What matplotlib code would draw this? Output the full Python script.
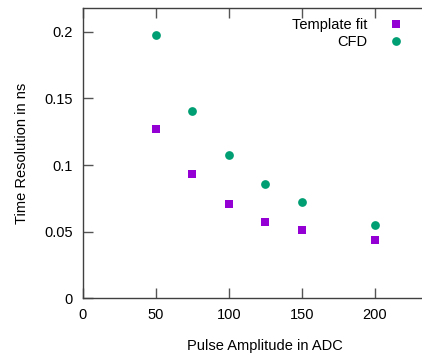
import matplotlib
matplotlib.use('Agg')
import matplotlib.pyplot as plt

plt.rcParams['font.family'] = ['Liberation Sans', 'DejaVu Sans']

amplitude = [50, 75, 100, 125, 150, 200]
template_fit = [0.1269, 0.0935, 0.0710, 0.0573, 0.0515, 0.0438]
cfd = [0.1977, 0.1406, 0.1076, 0.0860, 0.0721, 0.0553]

xticks = [0, 50, 100, 150, 200]
yticks = [0, 0.05, 0.1, 0.15, 0.2]
yticklabels = ['0', '0.05', '0.1', '0.15', '0.2']

W, H = 422, 356
fig = plt.figure(figsize=(W/100, H/100), dpi=100)
# axes runs past the right edge of the picture (cropped like the original)
ax = fig.add_axes([82.7/W, (H-298.3)/H, 365/W, 290/H])

ax.plot(amplitude, template_fit, 's', color='#9400D3', ms=6.3, mew=0,
        label='Template fit')
ax.plot(amplitude, cfd, 'o', color='#009E73', ms=6.3, mew=0, label='CFD')

ax.set_xlim(0, 250)
ax.set_ylim(0, 0.2177)
ax.set_xticks(xticks)
ax.set_yticks(yticks)
ax.set_yticklabels(yticklabels)
ax.tick_params(direction='in', length=7, width=1, color='#555555',
               labelsize=10.5, top=True, right=True, pad=7)
for s in ax.spines.values():
    s.set_color('#404040')
    s.set_linewidth(1)

ax.set_xlabel('Pulse Amplitude in ADC', fontsize=10.5, labelpad=12)
ax.set_ylabel('Time Resolution in ns', fontsize=10.5, labelpad=11)

ax.legend(loc='upper right', bbox_to_anchor=(403/W, 1 - 18/H),
          bbox_transform=fig.transFigure, frameon=False, markerfirst=False,
          fontsize=10.5, handlelength=1.0, handletextpad=1.45,
          labelspacing=0.2, borderaxespad=0, borderpad=0)

fig.savefig('out.png', dpi=100)
